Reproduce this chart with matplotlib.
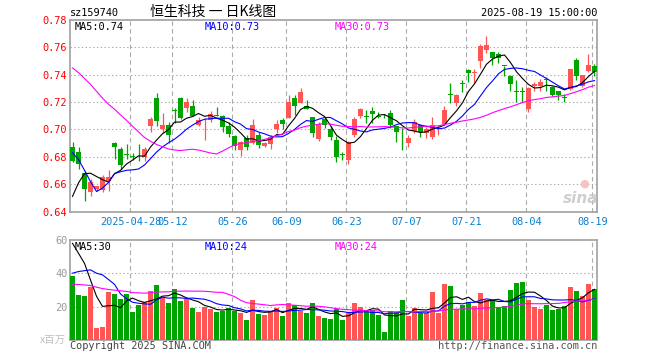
import matplotlib
matplotlib.use('Agg')
import matplotlib.pyplot as plt
import numpy as np
import pandas as pd

plt.rcParams['font.family'] = ['DejaVu Sans Mono']
CJK = ['Noto Sans CJK SC', 'DejaVu Sans']

# 日K: 2025-04-14 ~ 2025-08-19 (88 trading days)
opens = [
    .6870, .6836, .6680, .6539, .6563, .6555, .6620, .6900, .6856, .6818,
    .6805, .6815, .6800, .7027, .7229, .7005, .7035, .7140, .7229, .7156,
    .7173, .7034, .7030, .7070, .7106, .7100, .7028, .6955, .6848, .6934,
    .6900, .6962, .6880, .6897, .7003, .7070, .7085, .7227, .7195, .7170,
    .7090, .6928, .7075, .7005, .6922, .6815, .6776, .6960, .7095, .7095,
    .7138, .7095, .7098, .7122, .7025, .6938, .6900, .6985, .7035, .6975,
    .6948, .6993, .7039, .7262, .7195, .7335, .7434, .7412, .7500, .7580,
    .7563, .7551, .7466, .7388, .7280, .7278, .7153, .7315, .7315, .7366,
    .7307, .7283, .7236, .7295, .7510, .7315, .7429, .7466]
highs = [
    .6905, .6873, .6697, .6641, .6587, .6665, .6707, .6910, .6868, .6892,
    .6826, .6897, .6875, .7088, .7266, .7120, .7051, .7154, .7234, .7229,
    .7217, .7088, .7085, .7136, .7165, .7108, .7056, .6958, .6913, .6958,
    .7075, .6978, .6908, .6958, .7070, .7085, .7251, .7251, .7305, .7214,
    .7090, .7056, .7092, .7024, .6951, .6836, .6912, .7088, .7156, .7142,
    .7165, .7130, .7110, .7140, .7025, .7010, .6960, .7073, .7039, .7015,
    .7088, .7025, .7172, .7340, .7258, .7362, .7439, .7440, .7628, .7680,
    .7568, .7563, .7466, .7397, .7363, .7307, .7307, .7344, .7368, .7380,
    .7315, .7283, .7258, .7441, .7520, .7397, .7551, .7478]
lows = [
    .6763, .6709, .6478, .6514, .6551, .6540, .6550, .6783, .6709, .6783,
    .6778, .6770, .6770, .6978, .7022, .6975, .6900, .7046, .7075, .7124,
    .7095, .7027, .6925, .7056, .7095, .6983, .6946, .6846, .6808, .6851,
    .6893, .6862, .6875, .6860, .6975, .7000, .7080, .7105, .7190, .7146,
    .6946, .6917, .7007, .6925, .6763, .6780, .6748, .6948, .7080, .7050,
    .7050, .7080, .7080, .7010, .6905, .6850, .6872, .6972, .6946, .6940,
    .6930, .6960, .7031, .7195, .7170, .7270, .7349, .7336, .7450, .7560,
    .7470, .7483, .7390, .7283, .7202, .7202, .7124, .7283, .7283, .7283,
    .7246, .7217, .7197, .7290, .7363, .7307, .7422, .7393]
closes = [
    .6770, .6746, .6563, .6617, .6583, .6655, .6655, .6873, .6739, .6812,
    .6800, .6810, .6860, .7075, .7063, .7035, .6958, .7135, .7080, .7202,
    .7095, .7070, .7034, .7114, .7100, .7020, .6970, .6880, .6905, .6870,
    .7035, .6885, .6900, .6948, .7040, .7040, .7202, .7171, .7275, .7153,
    .6972, .7039, .7035, .6945, .6797, .6812, .6905, .7075, .7150, .7092,
    .7115, .7092, .7095, .7035, .6978, .6934, .6936, .7056, .6983, .7005,
    .7033, .6998, .7143, .7255, .7250, .7330, .7414, .7416, .7608, .7614,
    .7519, .7519, .7462, .7332, .7276, .7274, .7300, .7332, .7349, .7362,
    .7251, .7251, .7232, .7441, .7393, .7397, .7471, .7422]
# 成交量 (百万)
volumes = [
    38.4, 27, 26.4, 32, 7.4, 8, 29, 27.6, 24.6, 27.6,
    17, 21, 22.6, 29.4, 33, 25.6, 22.4, 30.6, 23.4, 24.4,
    19.4, 17, 19.6, 18.6, 17, 17.6, 19.4, 17.4, 16.4, 12,
    24, 15.6, 15, 17.6, 19.4, 14.4, 22.4, 21, 17.6, 16.4,
    22.4, 14.4, 13.4, 12.6, 18.4, 12, 16.4, 22.4, 19.6, 17.6,
    18, 15, 5, 17.4, 17, 24, 14.6, 19.4, 16, 16,
    29, 16.4, 33.6, 32.4, 18.4, 21, 23, 20.4, 28.4, 24,
    23.4, 19.6, 20.4, 30, 34.4, 35, 24, 20, 18.6, 21,
    18, 18.6, 20.4, 32, 29.4, 26.4, 33.6, 30.6]

# 04-14 이전 29일 (화면에 안 나옴, MA 계산용)
pre_closes = [
    .780, .785, .790, .810, .815, .800, .795, .800, .800, .809,
    .805, .810, .790, .775, .755, .745, .735, .720, .705, .696,
    .725, .735, .745, .730, .640, .625, .6226, .6602, .6704]
pre_volumes = [
    30, 35, 42, 38, 33, 45, 40, 36, 39, 38.6,
    25, 28, 22, 20, 24, 21, 19, 23, 22, 21.4,
    17, 21.4, 27, 27.4, 18, 57, 56.6, 82, 56]

tick_idx = [10, 17, 27, 36, 46, 56, 66, 76, 87]
tick_labels = ['2025-04-28', '05-12', '05-26', '06-09', '06-23',
               '07-07', '07-21', '08-04', '08-19']
price_ticks = [0.64, 0.66, 0.68, 0.70, 0.72, 0.74, 0.76, 0.78]
vol_ticks = [20, 40, 60]
ma_price_text = ['MA5:0.74', 'MA10:0.73', 'MA30:0.73']
ma_vol_text = ['MA5:30', 'MA10:24', 'MA30:24']

UP = '#ff5555'
DOWN = '#00a400'
MA_COLORS = ['black', '#0000ff', '#ff00ff']
GRID = '#aaaaaa'
W, H = 660, 360

n = len(closes)
x = np.arange(n)
o = np.array(opens)
c = np.array(closes)
up = c >= o
colors = np.where(up, UP, DOWN)

all_c = pd.Series(pre_closes + closes)
all_v = pd.Series(pre_volumes + volumes)
ma_p = [all_c.rolling(k).mean().values[-n:] for k in (5, 10, 30)]
ma_v = [all_v.rolling(k).mean().values[-n:] for k in (5, 10, 30)]

fig = plt.figure(figsize=(6.6, 3.6), dpi=100)
ax = fig.add_axes([70 / W, 1 - 211.5 / H, 527 / W, 191.5 / H])
axv = fig.add_axes([70 / W, 1 - 340 / H, 527 / W, 100 / H])

grid_x = np.array(tick_idx) - 0.35

# 캔들
ax.vlines(x, lows, highs, colors=colors, linewidth=0.9, zorder=3)
body = np.maximum(np.abs(c - o), 0.0006)
ax.bar(x, body, bottom=np.minimum(o, c), width=0.8, color=colors,
       linewidth=0, zorder=4)
for m, col in zip(ma_p, MA_COLORS):
    ax.plot(x, m, color=col, linewidth=0.8, zorder=5)

ax.set_xlim(-0.42, n - 0.58)
ax.set_ylim(0.64, 0.78)
ax.set_yticks(price_ticks)
ax.set_yticklabels([f'{v:.2f}' for v in price_ticks])
ax.set_xticks(grid_x)
ax.set_xticklabels(tick_labels)
ax.tick_params(axis='y', length=0, pad=2, labelsize=7.4, labelcolor='#ff0000')
ax.tick_params(axis='x', length=0, pad=4, labelsize=7.4, labelcolor='#0a7fd0')
for v in price_ticks[1:-1]:
    ax.axhline(v, color=GRID, linewidth=0.8, linestyle=(0, (1.2, 2.2)), zorder=1)
for gx in grid_x:
    ax.axvline(gx, color=GRID, linewidth=0.8, linestyle=(0, (4, 3)), zorder=1)

# 성교량
axv.bar(x, volumes, width=0.8, color=colors, linewidth=0, zorder=3)
for m, col in zip(ma_v, MA_COLORS):
    axv.plot(x, m, color=col, linewidth=0.8, zorder=5)
axv.set_xlim(-0.42, n - 0.58)
axv.set_ylim(0, 60)
axv.set_yticks(vol_ticks)
axv.set_xticks([])
axv.tick_params(axis='y', length=0, pad=2, labelsize=7.4, labelcolor='#999999')
for v in vol_ticks[:-1]:
    axv.axhline(v, color=GRID, linewidth=0.8, linestyle=(0, (1.2, 2.2)), zorder=1)
for gx in grid_x:
    axv.axvline(gx, color=GRID, linewidth=0.8, linestyle=(0, (4, 3)), zorder=1)

for a in (ax, axv):
    for s in a.spines.values():
        s.set_color('#a0a0a0')
        s.set_linewidth(1.2)

# 글자
def ftext(px, py, s, **kw):
    kw.setdefault('fontsize', 7.4)
    kw.setdefault('va', 'center')
    fig.text(px / W, 1 - py / H, s, **kw)

ftext(70, 13, 'sz159740')
ftext(213, 12, '恒生科技 一 日K线图', ha='center', fontsize=10, family=CJK)
ftext(597, 13, '2025-08-19 15:00:00', ha='right')
for px, s, col in zip((75, 205, 335), ma_price_text, MA_COLORS):
    ftext(px, 26.5, s, color=col)
for px, s, col in zip((75, 205, 335), ma_vol_text, MA_COLORS):
    ftext(px, 246.5, s, color=col)
ftext(66, 340, 'x百万', ha='right', color='#c0c0c0', fontsize=7.5, family=CJK)
ftext(70, 346, 'Copyright 2025 SINA.COM', color='#444444')
ftext(597, 346, 'http://finance.sina.com.cn', ha='right', color='#555555')
ftext(581, 198, 'sina', ha='center', fontsize=11, color='#cfcfcf',
      style='italic', weight='bold', family='DejaVu Sans')
ftext(584, 184, '●', ha='center', fontsize=8, color='#f4c4c4', family='DejaVu Sans')

plt.savefig('out.png', dpi=100)
